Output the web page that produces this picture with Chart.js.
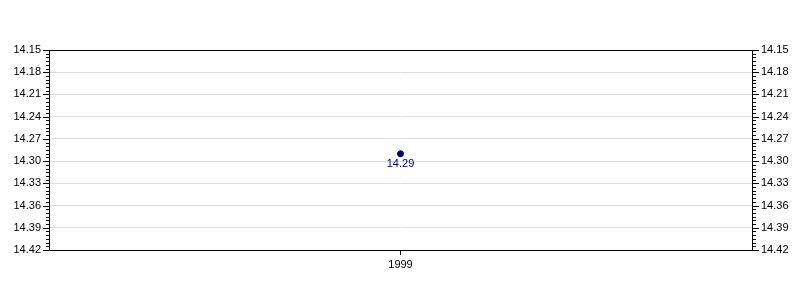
<!DOCTYPE html>
<html>
<head>
<meta charset="utf-8">
<script src="https://cdn.jsdelivr.net/npm/chart.js@4/dist/chart.umd.min.js"></script>
<style>
  html, body { margin: 0; padding: 0; background: #fff; }
  #wrap { width: 800px; height: 300px; }
</style>
</head>
<body>
<div id="wrap"><canvas id="chart" width="800" height="300"></canvas></div>
<script>
// chart data
const years = ['1999'];
const values = [14.29];
const yMin = 14.15;
const yMax = 14.42;
const majorStep = 0.03;
const minorStep = 0.005;

// frame + minor ticks on both y axes
const framePlugin = {
  id: 'frame',
  afterDraw(chart) {
    const ctx = chart.ctx;
    const a = chart.chartArea;
    const y = chart.scales.y;
    ctx.save();
    ctx.strokeStyle = '#000';
    ctx.lineWidth = 1;
    ctx.strokeRect(Math.round(a.left) + 0.5, Math.round(a.top) + 0.5,
      Math.round(a.right - a.left), Math.round(a.bottom - a.top));
    ctx.beginPath();
    const n = Math.round((yMax - yMin) / minorStep);
    for (let i = 0; i <= n; i++) {
      const v = yMin + i * minorStep;
      const py = Math.round(y.getPixelForValue(v)) + 0.5;
      const len = (i % 6 === 0) ? 6 : 3;
      ctx.moveTo(Math.round(a.left), py);
      ctx.lineTo(Math.round(a.left) - len, py);
      ctx.moveTo(Math.round(a.right) + 1, py);
      ctx.lineTo(Math.round(a.right) + 1 + len, py);
    }
    ctx.stroke();

    // value labels
    const meta = chart.getDatasetMeta(0);
    ctx.fillStyle = '#000080';
    ctx.font = '11px "Liberation Sans", Arial, sans-serif';
    ctx.textAlign = 'center';
    ctx.textBaseline = 'top';
    meta.data.forEach((pt, i) => {
      ctx.fillText(values[i].toFixed(2), pt.x, pt.y + 5);
    });
    ctx.restore();
  }
};

const majorTicks = function(scale) {
  const t = [];
  const n = Math.round((yMax - yMin) / majorStep);
  for (let i = 0; i <= n; i++) t.push({ value: +(yMin + i * majorStep).toFixed(2) });
  scale.ticks = t;
};

const yAxis = (pos, w) => ({
  type: 'linear',
  position: pos,
  reverse: true,
  min: yMin,
  max: yMax,
  afterBuildTicks: majorTicks,
  afterFit(scale) { scale.width = w; },
  border: { display: false },
  grid: {
    display: pos === 'left',
    color: '#dcdcdc',
    drawTicks: false
  },
  ticks: {
    padding: pos === 'left' ? 8 : 9,
    color: '#000',
    font: { family: '"Liberation Sans", Arial, sans-serif', size: 11 },
    callback: v => v.toFixed(2)
  }
});

new Chart(document.getElementById('chart'), {
  type: 'line',
  data: {
    labels: years,
    datasets: [{
      data: values,
      showLine: false,
      pointRadius: 3,
      pointBackgroundColor: '#000080',
      pointBorderColor: '#000040',
      pointBorderWidth: 1
    }]
  },
  options: {
    responsive: false,
    animation: false,
    layout: { padding: { top: 50, left: 0, right: 0, bottom: 0 } },
    plugins: { legend: { display: false }, tooltip: { enabled: false } },
    scales: {
      x: {
        offset: true,
        afterFit(scale) { scale.height = 50; },
        border: { display: false },
        grid: {
          drawOnChartArea: false,
          tickLength: 5,
          tickColor: '#000',
          offset: false
        },
        ticks: {
          padding: 3,
          color: '#000',
          font: { family: '"Liberation Sans", Arial, sans-serif', size: 11 }
        }
      },
      y: yAxis('left', 49),
      y2: yAxis('right', 48)
    }
  },
  plugins: [framePlugin]
});
</script>
</body>
</html>
